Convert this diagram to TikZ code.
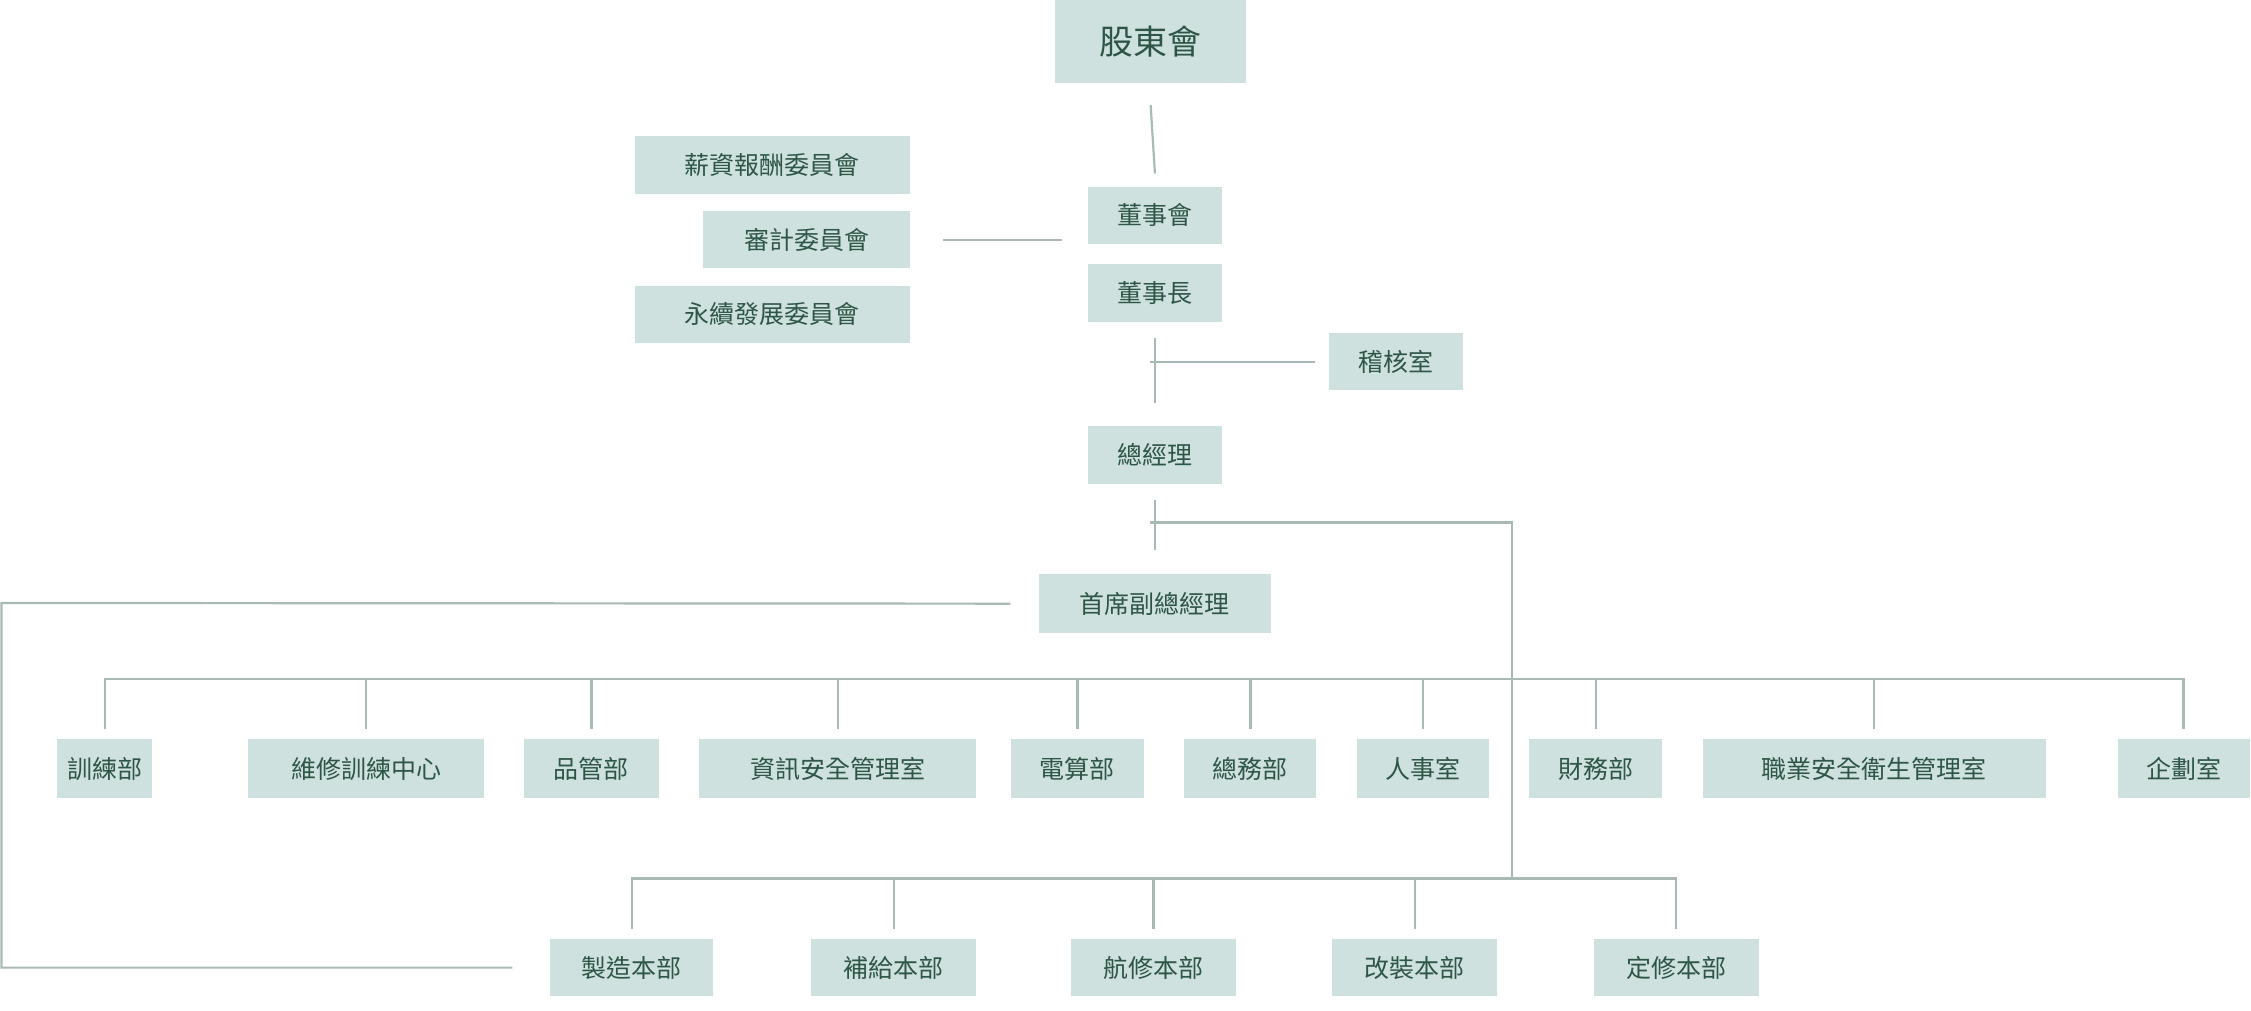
\documentclass[tikz,border=0pt]{standalone}
\usepackage{fontspec}
\setmainfont{Noto Sans CJK TC}
\usetikzlibrary{calc}
\definecolor{boxfill}{HTML}{CFE1DF}
\definecolor{txt}{HTML}{2E5646}
\definecolor{ln}{HTML}{A9BAB4}
\begin{document}
\begin{tikzpicture}[x=1.4356pt,y=-1.4356pt,
  box/.style={fill=boxfill,text=txt,inner sep=0pt,font=\fontsize{25}{25}\selectfont},
  conn/.style={draw=ln,line width=2.2pt}]
\useasboundingbox (0,0) rectangle (1568,704.2);
\newcommand\bx[7][]{\node[box,#1,minimum width={(#4-#3)*1.4356pt},minimum height={(#6-#5)*1.4356pt}] (#2) at ({(#3+#4)/2},{(#5+#6)/2}) {#7};}
\bx[font=\fontsize{34}{34}\selectfont]{gd}{735}{868}{0}{58}{股東會}
\bx{dsh}{758}{851}{130}{170}{董事會}
\bx{dsz}{758}{851}{184}{224}{董事長}
\bx{jh}{926}{1019}{232}{272}{稽核室}
\bx{zjl}{758}{851}{297}{337}{總經理}
\bx{fz}{724}{885}{400}{441}{首席副總經理}
\bx{xc}{442}{634}{95}{135}{薪資報酬委員會}
\bx{sj}{490}{634}{147}{187}{審計委員會}
\bx{yx}{442}{634}{199}{239}{永續發展委員會}
% row 1
\bx{a1}{40}{106}{515}{556}{訓練部}
\bx{a2}{173}{337}{515}{556}{維修訓練中心}
\bx{a3}{365}{459}{515}{556}{品管部}
\bx{a4}{487}{680}{515}{556}{資訊安全管理室}
\bx{a5}{704}{797}{515}{556}{電算部}
\bx{a6}{825}{917}{515}{556}{總務部}
\bx{a7}{945}{1037}{515}{556}{人事室}
\bx{a8}{1065}{1158}{515}{556}{財務部}
\bx{a9}{1186}{1425}{515}{556}{職業安全衛生管理室}
\bx{a10}{1475}{1567}{515}{556}{企劃室}
% row 2
\bx{b1}{383}{497}{654}{694}{製造本部}
\bx{b2}{565}{680}{654}{694}{補給本部}
\bx{b3}{746}{861}{654}{694}{航修本部}
\bx{b4}{928}{1043}{654}{694}{改裝本部}
\bx{b5}{1110}{1225}{654}{694}{定修本部}
% connectors
\draw[conn] ($(gd.south)+(0,15)$) -- ($(dsh.north)+(0,-9)$);
\draw[conn] ($(sj.east)+(23,0)$) coordinate (c1) -- (c1 -| 740,0);
\draw[conn] ($(dsz.south)+(0,11)$) -- ($(zjl.north)+(0,-16)$);
\coordinate (j1) at (801,252);
\draw[conn] (j1) -- ($(jh.west)+(-10,0)$);
\draw[conn] ($(zjl.south)+(0,11)$) -- ($(fz.north)+(0,-17)$);
\coordinate (j2) at (801,364);
\coordinate (r1) at (1053,364);
\coordinate (r2) at (1053,612);
\draw[conn] (j2) -- (r1) -- (r2);
\draw[conn] ($(fz.west)+(-20,0)$) -- (1,420) -- (1,674) -- ($(b1.west)+(-26,0)$);
\draw[conn] (a1.north |- 0,508) -- (a1.north |- 0,473) -- (a10.north |- 0,473) -- (a10.north |- 0,508);
\foreach \n in {a2,a3,a4,a5,a6,a7,a8,a9}
  \draw[conn] (\n.north |- 0,473) -- (\n.north |- 0,508);
\draw[conn] (b1.north |- 0,647) -- (b1.north |- 0,612) -- (b5.north |- 0,612) -- (b5.north |- 0,647);
\foreach \n in {b2,b3,b4}
  \draw[conn] (\n.north |- 0,612) -- (\n.north |- 0,647);
\end{tikzpicture}
\end{document}
